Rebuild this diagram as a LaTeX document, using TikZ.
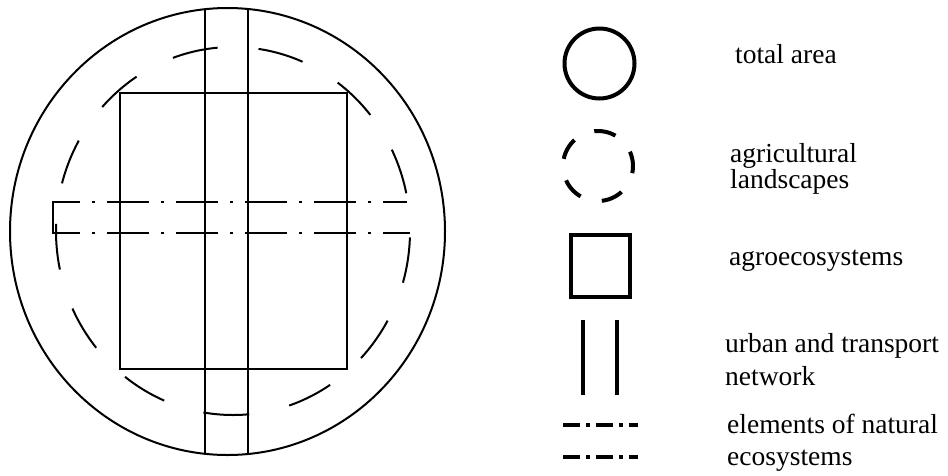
\documentclass[tikz,border=0pt]{standalone}
\usepackage{fontspec}
\setmainfont{Liberation Serif}
\tikzset{
  thinline/.style={line width=2pt},
  keyline/.style={line width=4pt},
  agroline/.style={line width=2pt, dash pattern=on 46pt off 41pt, dash phase=49pt},
  ecoline/.style={line width=2pt, line cap=butt, dash pattern=on 42pt off 12pt on 3pt off 12pt, dash phase=15pt},
  ecokey/.style={line width=4pt, line cap=butt, dash pattern=on 17pt off 6pt on 4pt off 6pt},
  keytext/.style={anchor=base west, inner sep=0pt, font=\fontsize{27.5}{33}\selectfont}
}
\begin{document}
\begin{tikzpicture}[x=1pt, y=-1pt, line join=miter]
\useasboundingbox (0,0) rectangle (948,475);
% total area and agricultural landscapes
\draw[thinline] (227.5,231.5) ellipse [x radius=217.5pt, y radius=223.5pt];
\draw[agroline] (233,231) ellipse [x radius=177pt, y radius=184pt];
% agroecosystems
\draw[thinline] (120,93) rectangle (347,369);
% urban and transport network
\draw[thinline] (205,9.2)--(205,453.8) (248,9)--(248,454);
% elements of natural ecosystems
\draw[ecoline] (53,202)--(407,202);
\draw[ecoline] (53,233)--(410,233);
\draw[thinline] (53,201)--(53,234);
% legend
\draw[keyline] (599.5,63.5) circle (35pt);
\draw[keyline, dash pattern=on 22pt off 22pt, dash phase=7.3pt] (598,166) circle (35pt);
\draw[keyline] (571,235) rectangle (630,297);
\draw[keyline] (583,320)--(583,395) (617,320)--(617,395);
\draw[ecokey] (563,425)--(638,425);
\draw[ecokey] (563,457)--(638,457);
\node[keytext] (tot) at (735,63) {total area};
\node[keytext] (agr1) at (730,162) {agricultural};
\node[keytext] (agr2) at (730,188) {landscapes};
\node[keytext] (eco) at (729,265) {agroecosystems};
\node[keytext] (urb1) at (725,352) {urban and transport};
\node[keytext] (urb2) at (725,385) {network};
\node[keytext] (nat1) at (727,433) {elements of natural};
\node[keytext] (nat2) at (727,465) {ecosystems};
\end{tikzpicture}
\end{document}
